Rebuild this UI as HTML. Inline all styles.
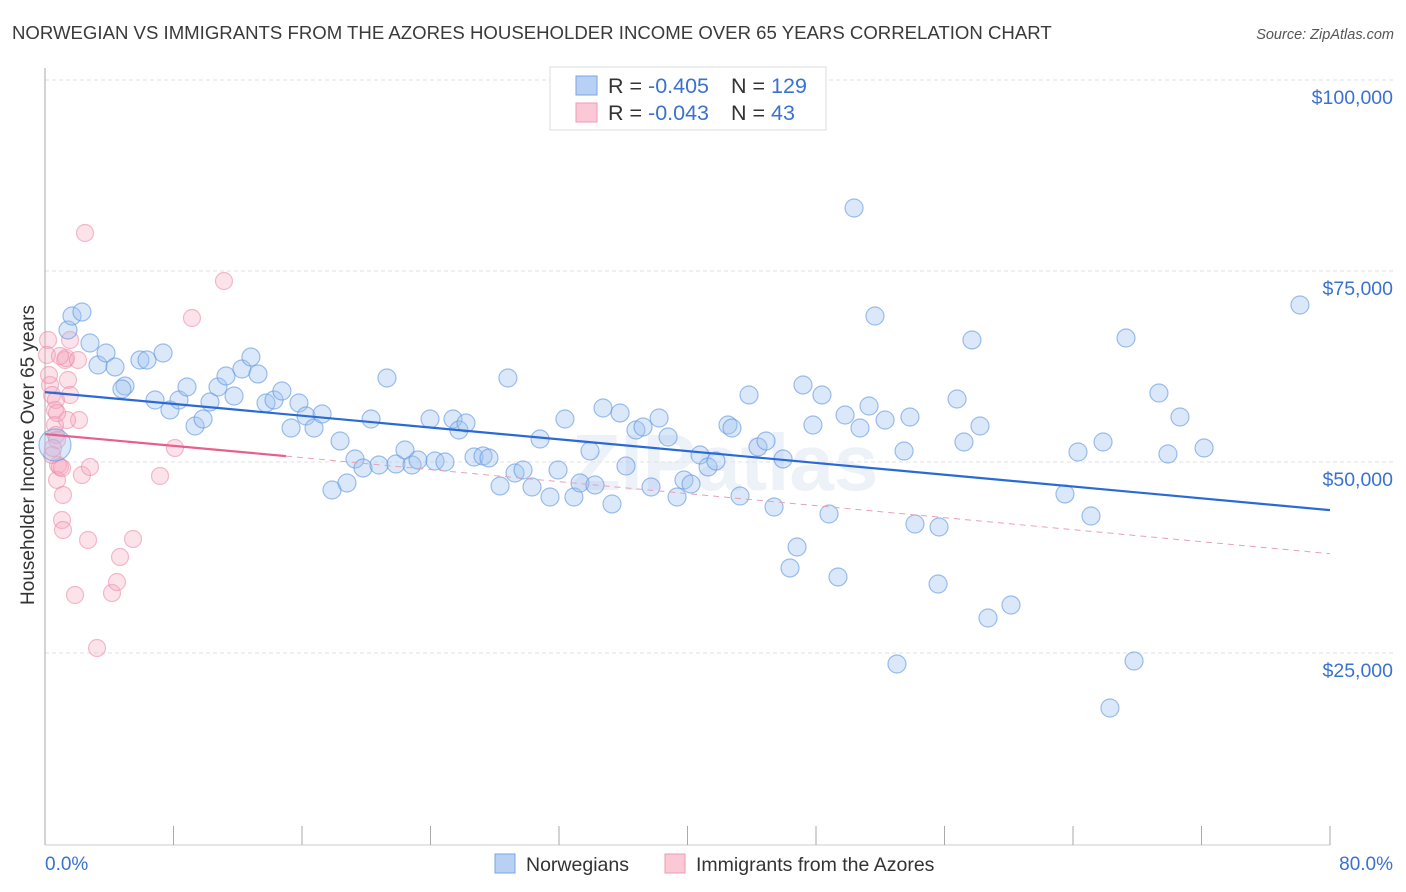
<!DOCTYPE html>
<html><head><meta charset="utf-8"><style>
body{margin:0;background:#fff;font-family:"Liberation Sans",sans-serif}
svg{display:block}
</style></head><body>
<svg width="1406" height="892" viewBox="0 0 1406 892" xmlns="http://www.w3.org/2000/svg">
<text x="12" y="39" font-size="18.6" fill="#3a3a3a">NORWEGIAN VS IMMIGRANTS FROM THE AZORES HOUSEHOLDER INCOME OVER 65 YEARS CORRELATION CHART</text>
<text x="1394" y="39" font-size="14.5" fill="#555" font-style="italic" text-anchor="end">Source: ZipAtlas.com</text>
<text x="725" y="490" font-size="80" fill="#edf1f8" text-anchor="middle" font-weight="bold">ZIPatlas</text>
<g id="grid"></g>
<g id="axes"></g>
<g id="pts"></g>
<g id="trend"></g>
<text transform="translate(34,455) rotate(-90)" font-size="19" fill="#333" text-anchor="middle">Householder Income Over 65 years</text>
<g>
<rect x="550" y="67" width="276" height="63" fill="#fff" stroke="#ddd"/>
<rect x="576" y="76" width="21" height="19" fill="#b8d0f3" stroke="#7aa5e3"/>
<rect x="576" y="103" width="21" height="19" fill="#fbc8d6" stroke="#ef9ab4"/>
<text x="608" y="93" font-size="21.5" fill="#333">R = <tspan fill="#3a72d0">-0.405</tspan></text>
<text x="731" y="93" font-size="21.5" fill="#333">N = <tspan fill="#3a72d0">129</tspan></text>
<text x="608" y="120" font-size="21.5" fill="#333">R = <tspan fill="#3a72d0">-0.043</tspan></text>
<text x="731" y="120" font-size="21.5" fill="#333">N = <tspan fill="#3a72d0"> 43</tspan></text>
</g>
<g>
<rect x="495" y="854" width="20" height="19" fill="#b8d0f3" stroke="#7aa5e3"/>
<text x="526" y="871" font-size="19.5" fill="#333">Norwegians</text>
<rect x="665" y="854" width="20" height="19" fill="#fbc8d6" stroke="#ef9ab4"/>
<text x="696" y="871" font-size="19.5" fill="#333">Immigrants from the Azores</text>
</g>
</svg>
<script>
const yTicks=[100000,75000,50000,25000];
const yTickLabels=["$100,000","$75,000","$50,000","$25,000"];
const xTickCount=10;
const xEndLabels=["0.0%","80.0%"];
const bluePx=[[68,330],[72,316],[82,312],[90,343],[98,365],[106,353],[115,367],[125,386],[122,389],[140,360],[147,360],[155,400],[163,353],[170,410],[179,400],[187,387],[195,426],[203,419],[210,402],[218,387],[226,376],[234,396],[242,369],[251,357],[258,374],[266,403],[274,400],[282,391],[291,428],[299,403],[306,416],[314,428],[322,414],[332,490],[340,441],[347,483],[355,459],[363,468],[371,419],[379,465],[387,378],[396,464],[405,450],[412,465],[418,460],[430,419],[435,461],[445,462],[453,419],[459,430],[466,423],[474,457],[483,456],[489,458],[500,486],[508,378],[515,473],[523,470],[532,487],[540,439],[550,497],[558,470],[565,419],[574,497],[580,483],[590,451],[595,485],[603,408],[612,504],[620,413],[626,466],[636,430],[643,427],[651,487],[659,418],[668,437],[677,497],[684,480],[691,484],[700,455],[708,467],[716,461],[728,425],[732,428],[740,496],[749,395],[758,447],[766,441],[774,507],[783,459],[790,568],[797,547],[803,385],[813,425],[822,395],[829,514],[838,577],[845,415],[854,208],[860,428],[869,406],[875,316],[885,420],[897,664],[904,451],[910,417],[915,524],[939,527],[938,584],[957,399],[964,442],[972,340],[980,426],[988,618],[1011,605],[1065,494],[1078,452],[1091,516],[1103,442],[1110,708],[1126,338],[1134,661],[1159,393],[1168,454],[1180,417],[1204,448],[1300,305],[55,445]];
const pinkPx=[[48,340],[50,385],[52,395],[55,410],[55,425],[56,435],[57,440],[58,465],[57,480],[60,467],[62,468],[62,520],[63,530],[65,360],[66,358],[68,380],[70,395],[70,340],[75,595],[78,360],[79,420],[82,475],[85,233],[88,540],[90,467],[97,648],[112,593],[117,582],[120,557],[133,539],[160,476],[175,448],[192,318],[224,281],[47,355],[52,455],[56,400],[60,356],[63,495],[67,420],[49,375],[53,448],[57,413]];
const X0=45,X1=1330,Y100=80,PXPER=191/25000;
const toPct=p=>(p-X0)/(X1-X0)*80, toVal=p=>100000-(p-Y100)/PXPER;
const blueX=bluePx.map(p=>+toPct(p[0]).toFixed(2)), blueY=bluePx.map(p=>Math.round(toVal(p[1])));
const pinkX=pinkPx.map(p=>+toPct(p[0]).toFixed(2)), pinkY=pinkPx.map(p=>Math.round(toVal(p[1])));
const blueTrend=[[0,59150],[80,43700]];
const pinkTrend=[[0,53650],[15,50770],[80,38000]];
const xs=v=>X0+v/80*(X1-X0), ys=v=>Y100+(100000-v)*PXPER;
const NS="http://www.w3.org/2000/svg";
function mk(t,a,par){const e=document.createElementNS(NS,t);for(const k in a)e.setAttribute(k,a[k]);document.getElementById(par).appendChild(e);return e;}
yTicks.forEach((v,i)=>{
 const l=mk('line',{x1:45,x2:1393,y1:ys(v),y2:ys(v),stroke:'#e2e2e2','stroke-dasharray':'4,3'},'grid');
 
 
 const t=mk('text',{x:1393,y:ys(v)+24,'font-size':19.5,fill:'#3a72d0','text-anchor':'end'},'axes');
 t.textContent=yTickLabels[i];
 
 
});
const ax=mk('line',{x1:45,x2:45,y1:68,y2:845,stroke:'#aaa'},'axes');


const bx=mk('line',{x1:45,x2:1330,y1:845,y2:845,stroke:'#ccc'},'axes');


for(let i=1;i<=xTickCount;i++){const x=xs(i*8);
 const t=mk('line',{x1:x,x2:x,y1:826,y2:845,stroke:'#aaa'},'axes');
 
 }
const xl=mk('text',{x:45,y:870,'font-size':19,fill:'#3a72d0'},'axes');xl.textContent=xEndLabels[0];


const xr=mk('text',{x:1393,y:870,'font-size':19,fill:'#3a72d0','text-anchor':'end'},'axes');xr.textContent=xEndLabels[1];


pinkX.forEach((x,i)=>{const c=mk('circle',{cx:xs(x),cy:ys(pinkY[i]),r:8.5,fill:'rgba(246,170,192,0.33)',stroke:'rgba(235,135,165,0.55)','stroke-width':1.2},'pts');
 
 });
blueX.forEach((x,i)=>{const big=i===blueX.length-1;const c=mk('circle',{cx:xs(x),cy:ys(blueY[i]),r:big?16:9,fill:'rgba(160,195,240,0.38)',stroke:'rgba(95,150,225,0.6)','stroke-width':1.2},'pts');
 
 });
const bt=mk('line',{x1:xs(blueTrend[0][0]),y1:ys(blueTrend[0][1]),x2:xs(blueTrend[1][0]),y2:ys(blueTrend[1][1]),stroke:'#2a6ad6','stroke-width':2.2},'trend');


const pt=mk('line',{x1:xs(pinkTrend[0][0]),y1:ys(pinkTrend[0][1]),x2:xs(pinkTrend[1][0]),y2:ys(pinkTrend[1][1]),stroke:'#e8608a','stroke-width':2.2},'trend');


const pd=mk('line',{x1:xs(pinkTrend[1][0]),y1:ys(pinkTrend[1][1]),x2:xs(pinkTrend[2][0]),y2:ys(pinkTrend[2][1]),stroke:'#e8a0b6','stroke-width':1,'stroke-dasharray':'6,5'},'trend');


</script>
</body></html>
